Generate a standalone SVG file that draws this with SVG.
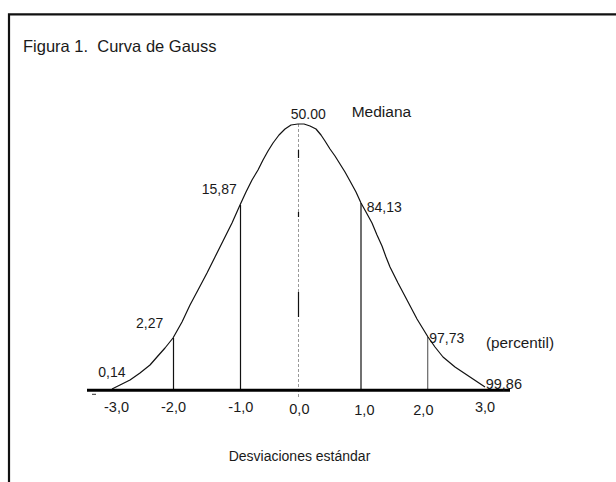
<svg xmlns="http://www.w3.org/2000/svg" width="616" height="482" viewBox="0 0 616 482">
<style>
text{font-family:"Liberation Sans",Arial,sans-serif;fill:#1a1a1a;}
.n{font-size:14px;}
.ax{font-size:14.5px;}
.tick{stroke:#111;stroke-width:1.2;fill:none;}
</style>
<rect x="0" y="0" width="616" height="482" fill="#fff"/>
<g id="frame"><path d="M9,482 V14.3 H616" fill="none" stroke="#111" stroke-width="2.2"/></g>
<g id="title"><text x="23" y="52" font-size="16.5" xml:space="preserve">Figura 1.  Curva de Gauss</text></g>
<g id="connectors">
<line x1="298.5" y1="124" x2="298.5" y2="398" stroke="#999" stroke-width="1" stroke-dasharray="3,2"/>
<path d="M298.5,150 V158 M298.5,212 V217 M298.5,292 V317" stroke="#111" stroke-width="1.2"/>
<line class="tick" x1="173.5" y1="338" x2="173.5" y2="390"/>
<line class="tick" x1="240.5" y1="205" x2="240.5" y2="390"/>
<line class="tick" x1="361" y1="203" x2="361" y2="390"/>
<line x1="427.7" y1="337" x2="427.7" y2="390" stroke="#666" stroke-width="1.2"/>
<polyline fill="none" stroke="#111" stroke-width="1.2" stroke-linejoin="round" points="112,389 120,385 130,380 140,373 150,365 157,357 165,348 173,338 182,322 190,305 198,290 207,273 215,257 223,241 232,223 240,205 246,192 252,180 258,170 263,160 268,151 273,143 279,135 285,129 291,125 298,124 304,124 310,126 316,129 321,135 325,141 330,149 335,156 340,164 345,172 350,181 356,192 361,203 366,212 372,223 377,235 382,246 386,257 390,267 398,283 407,300 417,319 428,337 435,347 443,357 455,367 467,375 476,381 485,387"/>
<line x1="87" y1="390.3" x2="510" y2="390.3" stroke="#000" stroke-width="3"/>
<line x1="92" y1="394.3" x2="96" y2="394.3" stroke="#333" stroke-width="1"/>
</g>
<g id="labels">
<text class="n" x="290.7" y="119.3">50.00</text>
<text x="351.7" y="117.3" font-size="15.5">Mediana</text>
<text class="n" x="201.7" y="194">15,87</text>
<text class="n" x="366.7" y="211.7">84,13</text>
<text class="n" x="136" y="328.3">2,27</text>
<text class="n" x="98.3" y="377.3">0,14</text>
<text class="n" x="429.3" y="342.7">97,73</text>
<text x="486" y="348.3" font-size="15.3">(percentil)</text>
<text x="485.7" y="389" font-size="14.5">99,86</text>
</g>
<g id="axis-labels">
<text class="ax" x="104" y="411.7">-3,0</text>
<text class="ax" x="161" y="411.7">-2,0</text>
<text class="ax" x="228.3" y="411.7">-1,0</text>
<text class="ax" x="289.3" y="414.3">0,0</text>
<text class="ax" x="354.3" y="415">1,0</text>
<text class="ax" x="413.3" y="415">2,0</text>
<text class="ax" x="475" y="412.3">3,0</text>
<text x="299.5" y="461" font-size="14" text-anchor="middle">Desviaciones estándar</text>
</g>
</svg>
